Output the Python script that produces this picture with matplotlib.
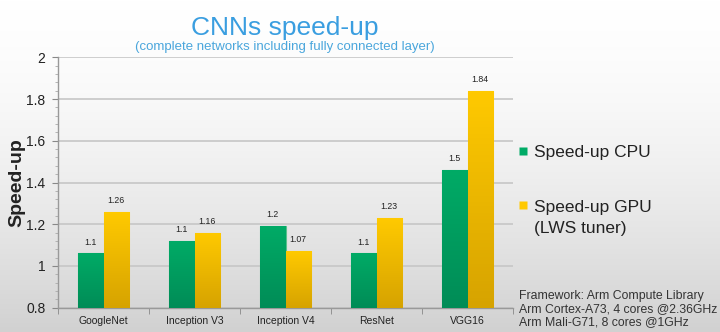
import matplotlib.pyplot as plt
import numpy as np
from matplotlib.lines import Line2D
from matplotlib.ticker import MultipleLocator, FixedLocator

networks = ["GoogleNet", "Inception V3", "Inception V4", "ResNet", "VGG16"]
cpu_speedup = [1.06, 1.12, 1.19, 1.06, 1.46]
gpu_speedup = [1.26, 1.16, 1.07, 1.23, 1.84]
series_names = ["Speed-up CPU", "Speed-up GPU\n(LWS tuner)"]
footnote = [
    "Framework: Arm Compute Library",
    "Arm Cortex-A73, 4 cores @2.36GHz",
    "Arm Mali-G71, 8 cores @1GHz",
]

plt.rcParams["font.family"] = ["Liberation Sans", "DejaVu Sans"]

fig = plt.figure(figsize=(7.2, 3.32), dpi=100)

# light vertical gradient behind everything
bg = fig.add_axes([0, 0, 1, 1], zorder=-10)
shade = np.linspace(0, 1, 256) ** 1.6
bg_img = 1 - 0.18 * shade
bg.imshow(np.repeat(bg_img[:, None, None], 3, axis=2), aspect="auto",
          extent=[0, 1, 0, 1], origin="upper")
bg.set_axis_off()

ax = fig.add_axes([0.0806, 0.0732, 0.632, 0.7542])
ax.patch.set_alpha(0)

x = np.arange(len(networks))
w = 0.28


def gradient_bars(xpos, vals, top, bottom, edge):
    bars = ax.bar(xpos, [v - 0.8 for v in vals], w, bottom=0.8, color=top,
                  edgecolor=edge, linewidth=0.8, zorder=3)
    grad = np.linspace(0, 1, 64)[:, None, None]
    c = np.array(top)[None, None, :] * (1 - grad) + np.array(bottom)[None, None, :] * grad
    for b in bars:
        x0, y0 = b.get_x(), b.get_y()
        im = ax.imshow(c, aspect="auto", zorder=3.5,
                       extent=[x0, x0 + b.get_width(), y0, y0 + b.get_height()],
                       origin="upper")
        im.set_clip_path(b)
    return bars


green_top = (0.0, 0.67, 0.40)
green_bot = (0.0, 0.55, 0.34)
gold_top = (1.0, 0.79, 0.0)
gold_bot = (0.84, 0.64, 0.0)

gradient_bars(x - w / 2, cpu_speedup, green_top, green_bot, (0.35, 0.75, 0.55))
gradient_bars(x + w / 2, gpu_speedup, gold_top, gold_bot, (1.0, 0.86, 0.4))

for xi, v in zip(x - w / 2, cpu_speedup):
    ax.annotate(f"{v:.1f}", (xi, v), xytext=(0, 5), textcoords="offset points",
                ha="center", va="bottom", fontsize=6.3, color="#222222")
for xi, v in zip(x + w / 2, gpu_speedup):
    ax.annotate(f"{v:.2f}", (xi, v), xytext=(0, 5), textcoords="offset points",
                ha="center", va="bottom", fontsize=6.3, color="#222222")

ax.set_xlim(-0.5, len(networks) - 0.5)
ax.set_ylim(0.8, 2.0)
ax.yaxis.set_minor_locator(MultipleLocator(0.04))
ax.set_yticks(np.arange(0.8, 2.01, 0.2))
ax.set_yticklabels(["0.8", "1", "1.2", "1.4", "1.6", "1.8", "2"])
ax.grid(axis="y", color="#c6c6c6", linewidth=1.2, zorder=0)
ax.set_axisbelow(True)

ax.set_xticks(x)
ax.set_xticklabels(networks, fontsize=7.5, color="#222222")
ax.xaxis.set_minor_locator(FixedLocator(np.arange(-0.5, len(networks), 1.0)))
ax.tick_params(axis="x", which="major", length=0, pad=6)
ax.tick_params(axis="x", which="minor", length=4, color="#888888", direction="out")
ax.tick_params(axis="y", which="major", length=4, color="#888888", labelsize=10,
               labelcolor="#222222", pad=5)
ax.tick_params(axis="y", which="minor", length=2.5, color="#aaaaaa")

for s in ("top", "right"):
    ax.spines[s].set_visible(False)
for s in ("left", "bottom"):
    ax.spines[s].set_color("#999999")
    ax.spines[s].set_linewidth(1.0)

ax.set_ylabel("Speed-up", fontsize=14, fontweight="bold", color="#222222", labelpad=1)

fig.text(0.395, 0.915, "CNNs speed-up", ha="center", va="center", fontsize=19,
         color="#3a9ee0")
fig.text(0.395, 0.857, "(complete networks including fully connected layer)",
         ha="center", va="center", fontsize=9.5, color="#4aa6dc")

# hand-placed legend: square swatch + label; baseline is that of the label's last line
line_gap = 22 / 332
legend_rows = [(0.545, green_top), (0.382, gold_top)]
for (ly, col), name in zip(legend_rows, series_names):
    fig.add_artist(Line2D([0.7265], [ly], transform=fig.transFigure, marker="s",
                          linestyle="none", markersize=5.5, markerfacecolor=col,
                          markeredgecolor="none"))
    extra = name.count("\n") * line_gap
    fig.text(0.7415, ly - 0.0185 - extra, name, ha="left", va="baseline",
             fontsize=12.5, color="#222222", linespacing=1.55)

fig.text(0.721, 0.069, "\n".join(footnote), ha="left", va="center",
         fontsize=8.8, color="#333333", linespacing=1.15)

fig.savefig("out.png", dpi=100)
